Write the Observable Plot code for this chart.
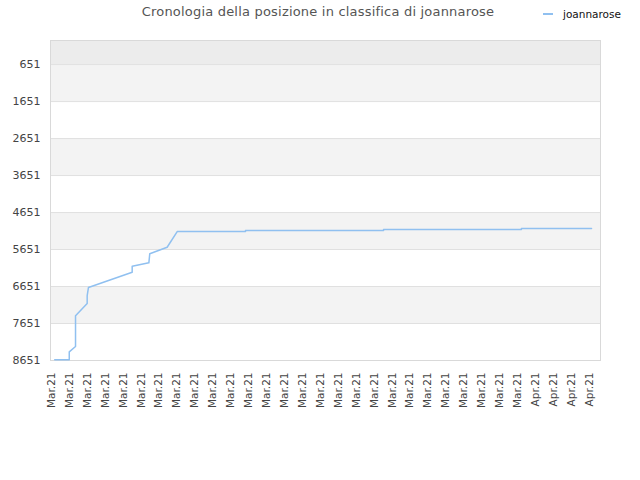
<!DOCTYPE html>
<html>
<head>
<meta charset="utf-8">
<script src="https://cdn.jsdelivr.net/npm/d3@7"></script>
<script src="https://cdn.jsdelivr.net/npm/@observablehq/plot@0.6"></script>
<style>
  body { margin: 0; background: #fff; font-family: "DejaVu Sans", sans-serif; }
  #wrap { position: relative; width: 640px; height: 480px; }
  #title { position: absolute; top: 4px; left: 0; width: 636px; text-align: center; font-size: 13px; color: #555; letter-spacing: 0.2px; }
  #legend { position: absolute; top: 8px; left: 543px; font-size: 10.5px; color: #111; display: flex; align-items: center; }
  #legend .sw { width: 10px; height: 2px; background: #90c0f0; margin-right: 10px; }
  #chart { position: absolute; top: 0; left: 0; }
</style>
</head>
<body>
<div id="wrap">
  <div id="chart"></div>
  <div id="title">Cronologia della posizione in classifica di joannarose</div>
  <div id="legend"><span class="sw"></span><span>joannarose</span></div>
</div>
<script>
// Tick labels along the x axis (evenly spaced categories)
const xLabels = [
  "Mar.21","Mar.21","Mar.21","Mar.21","Mar.21","Mar.21","Mar.21","Mar.21","Mar.21","Mar.21",
  "Mar.21","Mar.21","Mar.21","Mar.21","Mar.21","Mar.21","Mar.21","Mar.21","Mar.21","Mar.21",
  "Mar.21","Mar.21","Mar.21","Mar.21","Mar.21","Mar.21","Mar.21","Apr.21","Apr.21","Apr.21","Apr.21"
];
// Y tick values (rank positions)
const yTicks = [651, 1651, 2651, 3651, 4651, 5651, 6651, 7651, 8651];
// Band edges between grid lines
const bandEdges = [0, 651, 1651, 2651, 3651, 4651, 5651, 6651, 7651, 8651];
const bandFills = ["#ececec", "#f3f3f3", "#ffffff", "#f3f3f3", "#ffffff", "#f3f3f3", "#ffffff", "#f3f3f3", "#ffffff"];

// Series: position in x-label index units, rank
const seriesX = [0.18, 0.99, 0.99, 1.34, 1.34, 1.99, 1.99, 2.06, 4.50, 4.50, 5.43, 5.48, 6.45, 7.01, 10.82, 10.82, 18.52, 18.52, 26.21, 26.21, 30.12];
const seriesRank = [8632, 8632, 8416, 8273, 7443, 7110, 6894, 6678, 6264, 6103, 6010, 5767, 5589, 5165, 5162, 5135, 5135, 5108, 5108, 5081, 5081];

const series = seriesX.map((x, i) => ({x, rank: seriesRank[i]}));
const bands = bandFills.map((fill, i) => ({y1: bandEdges[i], y2: bandEdges[i + 1], fill}));

const chart = Plot.plot({
  width: 640,
  height: 480,
  marginTop: 40,
  marginBottom: 120,
  marginLeft: 50,
  marginRight: 40,
  style: {fontFamily: "DejaVu Sans, sans-serif", fontSize: "10px", color: "#444", background: "transparent"},
  x: {domain: [-0.056, 30.62], label: null},
  y: {domain: [8651, 0], label: null},
  marks: [
    Plot.rect(bands, {x1: -0.056, x2: 30.62, y1: "y1", y2: "y2", fill: "fill"}),
    Plot.ruleY(yTicks, {stroke: "#e0e0e0", strokeWidth: 1}),
    Plot.frame({stroke: "#d9d9d9"}),
    Plot.line(series, {x: "x", y: "rank", stroke: "#90c0f0", strokeWidth: 1.5}),
    Plot.axisX({ticks: d3.range(xLabels.length), tickFormat: i => xLabels[i], tickRotate: -90, tickSize: 0, tickPadding: 12, fontSize: 10.5, label: null}),
    Plot.axisY({ticks: yTicks, tickFormat: d => String(d), tickSize: 0, tickPadding: 10, fontSize: 11, label: null})
  ]
});
document.getElementById("chart").appendChild(chart);
</script>
</body>
</html>
